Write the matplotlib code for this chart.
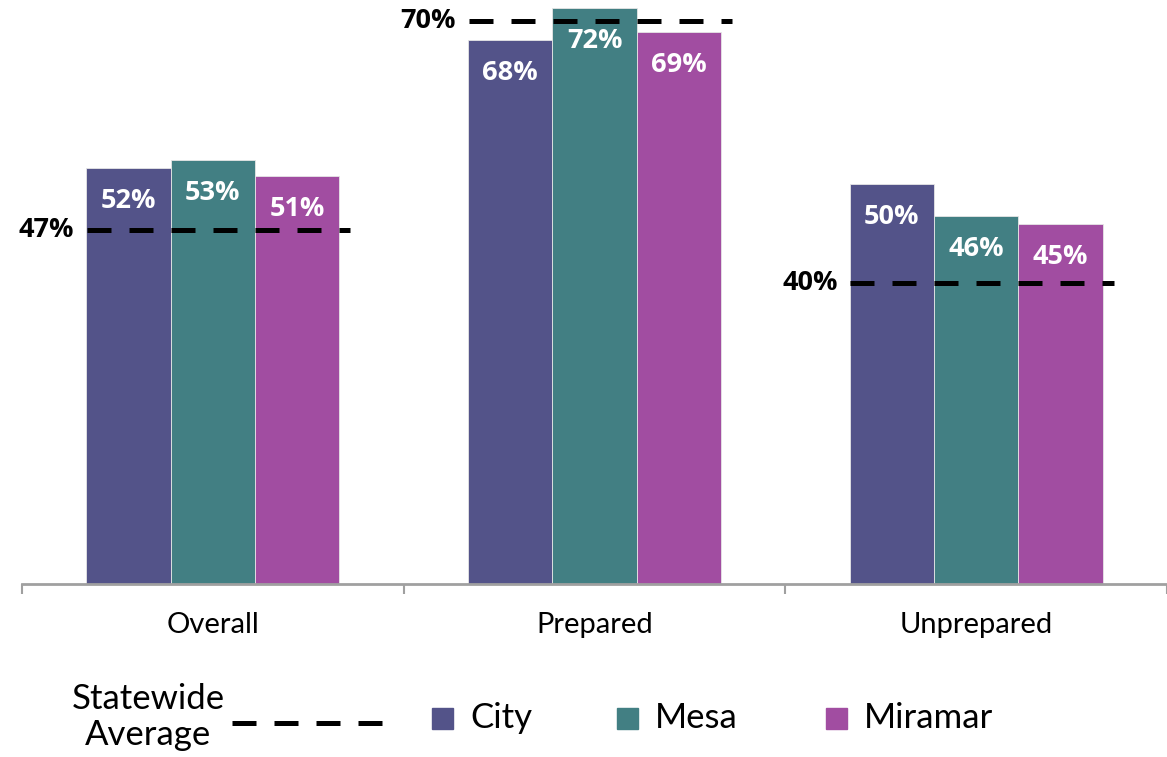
import numpy as np
import matplotlib
matplotlib.use("Agg")
import matplotlib.pyplot as plt
from matplotlib.patches import Rectangle
from matplotlib.lines import Line2D

plt.rcParams['font.family'] = ['Lato', 'DejaVu Sans']
BOLD = ['Open Sans', 'DejaVu Sans']

categories = ["Overall", "Prepared", "Unprepared"]
colleges = ["City", "Mesa", "Miramar"]
city = [52, 68, 50]
mesa = [53, 72, 46]
miramar = [51, 69, 45]
# statewide average: labels as printed, levels where the dashed lines sit
statewide_labels = ["47%", "70%", "40%"]
statewide_levels = [44.3, 70.4, 37.6]

colors = ["#535389", "#427F83", "#A14DA1"]

fig = plt.figure(figsize=(11.67, 7.57), dpi=100)
W, H = 1167, 757
ax = fig.add_axes([22 / W, (H - 584) / H, (W - 22) / W, 584 / H])

x = np.arange(len(categories))
width = 0.221
for i, (vals, col) in enumerate(zip([city, mesa, miramar], colors)):
    bars = ax.bar(x + (i - 1) * width, vals, width, color=col,
                  edgecolor="#e6e6e6", linewidth=0.6, zorder=2)
    for b, v in zip(bars, vals):
        ax.annotate(f"{v}%", (b.get_x() + b.get_width() / 2, v),
                    xytext=(0, -24), textcoords="offset points",
                    ha="center", va="center", color="white",
                    fontsize=19.5, fontweight="bold", family=BOLD, zorder=4)

# statewide average dashed lines
for xi, lvl, lab in zip(x, statewide_levels, statewide_labels):
    ax.plot([xi - 0.33, xi + 0.36], [lvl, lvl], color="black", lw=3.6,
            dashes=(4.8, 3.6), zorder=3, dash_capstyle="butt")
    ax.annotate(lab, (xi - 0.33, lvl), xytext=(-9, 0),
                textcoords="offset points", ha="right", va="center",
                fontsize=19.5, fontweight="bold", family=BOLD, color="black")

ax.set_xlim(-0.5, -0.5 + 1145 / 385)
ax.set_ylim(0, 73)

for s in ["top", "right", "left"]:
    ax.spines[s].set_visible(False)
ax.spines["bottom"].set_color("#a0a0a0")
ax.spines["bottom"].set_linewidth(2)
ax.set_yticks([])

ax.set_xticks([-0.5, 0.5, 1.5, 2.5])
ax.set_xticklabels([])
ax.tick_params(axis="x", which="major", direction="out", length=7,
               width=1.5, color="#a0a0a0")
ax.set_xticks(x, minor=True)
ax.set_xticklabels(categories, minor=True, fontsize=21)
ax.tick_params(axis="x", which="minor", length=0, pad=20)

# legend drawn by hand at the bottom
fig.text(148 / W, 1 - 717 / H, "Statewide\nAverage", ha="center",
         va="center", fontsize=25, linespacing=1.15)
fig.add_artist(Line2D([232 / W, 382 / W], [1 - 723 / H, 1 - 723 / H],
                      color="black", lw=3.6, dashes=(4.8, 3.6),
                      transform=fig.transFigure, dash_capstyle="butt"))
sq_x = [432, 617, 826]
for sx, name, col in zip(sq_x, colleges, colors):
    fig.add_artist(Rectangle((sx / W, 1 - 729 / H), 21 / W, 21 / H,
                             color=col, transform=fig.transFigure))
    fig.text((sx + 38) / W, 1 - 718 / H, name, ha="left", va="center",
             fontsize=25)

fig.savefig("out.png", dpi=100)
